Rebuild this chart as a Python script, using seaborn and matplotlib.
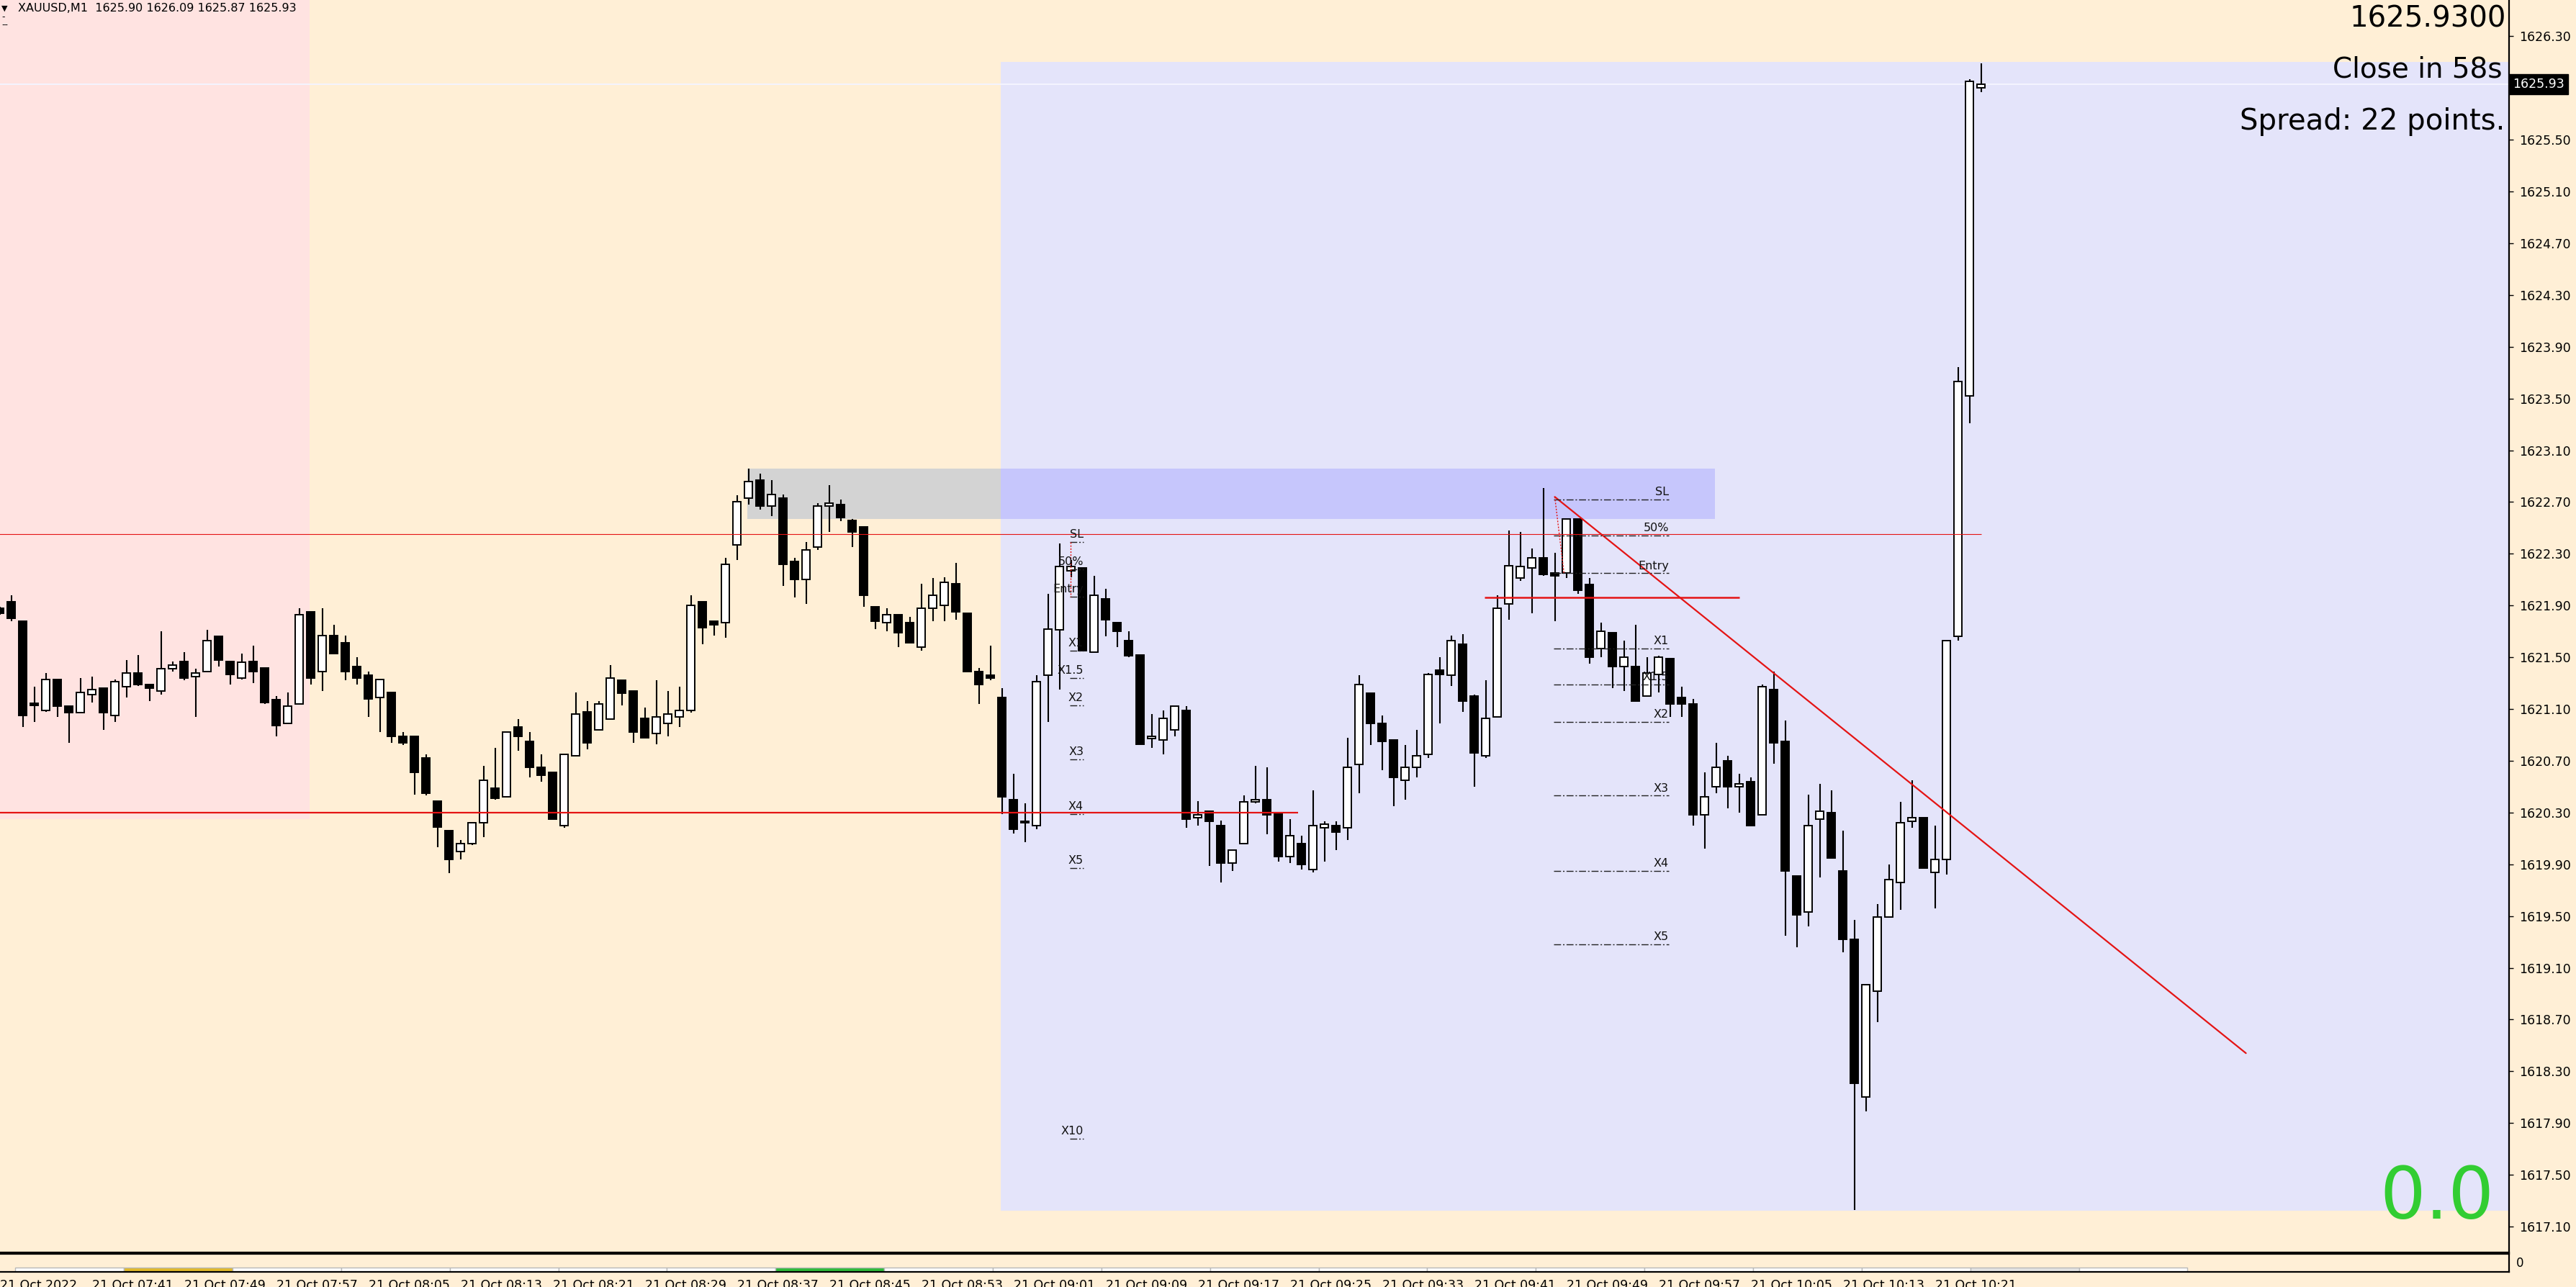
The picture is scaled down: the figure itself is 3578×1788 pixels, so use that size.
import matplotlib
matplotlib.use("Agg")
import matplotlib.pyplot as plt
import matplotlib.transforms as mtransforms
from matplotlib.patches import Rectangle
import numpy as np
import pandas as pd
import seaborn as sns

# XAUUSD M1, bar 0 = 21 Oct 2022 07:33, one bar per minute
opens = [1621.88, 1621.93, 1621.78, 1621.14, 1621.09, 1621.33, 1621.12, 1621.07, 1621.21, 1621.26,
         1621.05, 1621.27, 1621.38, 1621.29, 1621.24, 1621.41, 1621.47, 1621.35, 1621.39, 1621.66,
         1621.47, 1621.34, 1621.47, 1621.42, 1621.17, 1620.99, 1621.14, 1621.85, 1621.39, 1621.67,
         1621.61, 1621.43, 1621.36, 1621.19, 1621.23, 1620.89, 1620.89, 1620.72, 1620.39, 1620.16,
         1620.00, 1620.06, 1620.22, 1620.49, 1620.42, 1620.96, 1620.85, 1620.65, 1620.61, 1620.20,
         1620.74, 1621.08, 1620.94, 1621.02, 1621.32, 1621.24, 1621.03, 1620.91, 1620.99, 1621.04,
         1621.09, 1621.93, 1621.78, 1621.77, 1622.37, 1622.73, 1622.87, 1622.67, 1622.73, 1622.24,
         1622.10, 1622.35, 1622.67, 1622.68, 1622.56, 1622.51, 1621.89, 1621.77, 1621.83, 1621.77,
         1621.58, 1621.88, 1621.90, 1622.07, 1621.84, 1621.39, 1621.36, 1621.19, 1620.40, 1620.22,
         1620.20, 1621.36, 1621.71, 1622.17, 1622.19, 1621.54, 1621.95, 1621.77, 1621.63, 1621.52,
         1620.87, 1620.86, 1620.94, 1621.09, 1620.26, 1620.31, 1620.20, 1619.91, 1620.06, 1620.38,
         1620.40, 1620.30, 1619.96, 1620.06, 1619.86, 1620.18, 1620.20, 1620.18, 1620.67, 1621.22,
         1620.99, 1620.86, 1620.55, 1620.65, 1620.75, 1621.40, 1621.36, 1621.60, 1621.20, 1620.74,
         1621.04, 1621.91, 1622.11, 1622.19, 1622.27, 1622.15, 1622.15, 1622.57, 1622.06, 1621.57,
         1621.69, 1621.43, 1621.43, 1621.20, 1621.37, 1621.49, 1621.19, 1621.14, 1620.28, 1620.50,
         1620.70, 1620.50, 1620.54, 1620.28, 1621.25, 1620.85, 1619.81, 1619.53, 1620.25, 1620.30,
         1619.85, 1619.32, 1618.10, 1618.92, 1619.49, 1619.76, 1620.23, 1620.26, 1619.84, 1619.94,
         1621.66, 1623.52, 1625.90]
highs = [1621.89, 1621.98, 1621.78, 1621.27, 1621.38, 1621.33, 1621.12, 1621.34, 1621.35, 1621.26,
         1621.33, 1621.48, 1621.52, 1621.29, 1621.70, 1621.47, 1621.54, 1621.41, 1621.71, 1621.66,
         1621.47, 1621.53, 1621.59, 1621.42, 1621.20, 1621.23, 1621.88, 1621.85, 1621.88, 1621.75,
         1621.67, 1621.50, 1621.39, 1621.33, 1621.23, 1620.92, 1620.89, 1620.75, 1620.39, 1620.16,
         1620.09, 1620.22, 1620.66, 1620.80, 1620.92, 1621.02, 1620.92, 1620.75, 1620.61, 1620.75,
         1621.23, 1621.16, 1621.16, 1621.44, 1621.32, 1621.24, 1621.11, 1621.32, 1621.24, 1621.27,
         1621.98, 1621.93, 1621.78, 1622.27, 1622.75, 1622.96, 1622.92, 1622.87, 1622.76, 1622.27,
         1622.39, 1622.69, 1622.83, 1622.72, 1622.57, 1622.51, 1621.89, 1621.88, 1621.83, 1621.81,
         1622.07, 1622.11, 1622.12, 1622.23, 1621.84, 1621.42, 1621.59, 1621.26, 1620.60, 1620.37,
         1621.36, 1621.99, 1622.38, 1622.25, 1622.19, 1622.13, 1622.03, 1621.77, 1621.70, 1621.52,
         1621.06, 1621.09, 1621.12, 1621.12, 1620.39, 1620.31, 1620.24, 1620.01, 1620.43, 1620.66,
         1620.65, 1620.30, 1620.25, 1620.12, 1620.47, 1620.23, 1620.23, 1620.88, 1621.36, 1621.22,
         1621.05, 1620.86, 1620.82, 1620.94, 1621.38, 1621.50, 1621.67, 1621.68, 1621.21, 1621.32,
         1621.98, 1622.48, 1622.47, 1622.34, 1622.81, 1622.31, 1622.57, 1622.57, 1622.11, 1621.77,
         1621.69, 1621.63, 1621.75, 1621.50, 1621.51, 1621.49, 1621.27, 1621.18, 1620.61, 1620.84,
         1620.74, 1620.60, 1620.57, 1621.29, 1621.39, 1621.01, 1619.81, 1620.44, 1620.52, 1620.47,
         1620.16, 1619.47, 1618.97, 1619.59, 1619.90, 1620.38, 1620.55, 1620.26, 1620.20, 1621.63,
         1623.74, 1625.97, 1626.09]
lows = [1621.83, 1621.78, 1620.96, 1621.00, 1621.08, 1621.04, 1620.84, 1621.07, 1621.15, 1620.94,
        1621.00, 1621.19, 1621.28, 1621.16, 1621.21, 1621.39, 1621.32, 1621.04, 1621.39, 1621.43,
        1621.29, 1621.33, 1621.30, 1621.14, 1620.89, 1620.99, 1621.14, 1621.29, 1621.24, 1621.53,
        1621.32, 1621.29, 1621.04, 1620.92, 1620.84, 1620.82, 1620.44, 1620.43, 1620.03, 1619.83,
        1619.94, 1620.05, 1620.11, 1620.40, 1620.42, 1620.78, 1620.57, 1620.54, 1620.25, 1620.18,
        1620.74, 1620.79, 1620.94, 1621.02, 1621.13, 1620.84, 1620.88, 1620.83, 1620.89, 1620.96,
        1621.07, 1621.60, 1621.67, 1621.65, 1622.25, 1622.68, 1622.64, 1622.59, 1622.05, 1621.96,
        1621.91, 1622.33, 1622.47, 1622.55, 1622.35, 1621.89, 1621.72, 1621.70, 1621.58, 1621.61,
        1621.55, 1621.78, 1621.78, 1621.79, 1621.39, 1621.14, 1621.32, 1620.29, 1620.14, 1620.07,
        1620.17, 1621.00, 1621.25, 1622.12, 1621.55, 1621.54, 1621.66, 1621.58, 1621.50, 1620.83,
        1620.80, 1620.75, 1620.89, 1620.18, 1620.20, 1619.89, 1619.76, 1619.85, 1620.06, 1620.37,
        1620.13, 1619.92, 1619.91, 1619.86, 1619.84, 1619.92, 1620.01, 1620.09, 1620.45, 1620.82,
        1620.63, 1620.35, 1620.40, 1620.57, 1620.72, 1620.99, 1621.28, 1621.08, 1620.50, 1620.72,
        1621.04, 1621.79, 1622.09, 1621.84, 1622.13, 1621.78, 1622.11, 1621.99, 1621.45, 1621.50,
        1621.26, 1621.24, 1621.16, 1621.20, 1621.23, 1621.04, 1621.04, 1620.20, 1620.02, 1620.45,
        1620.33, 1620.30, 1620.20, 1620.28, 1620.68, 1619.35, 1619.26, 1619.42, 1619.80, 1619.95,
        1619.22, 1617.23, 1617.99, 1618.68, 1619.49, 1619.55, 1620.18, 1619.87, 1619.56, 1619.82,
        1621.63, 1623.31, 1625.87]
closes = [1621.84, 1621.80, 1621.05, 1621.13, 1621.33, 1621.12, 1621.07, 1621.23, 1621.25, 1621.07,
          1621.31, 1621.38, 1621.29, 1621.26, 1621.41, 1621.44, 1621.34, 1621.38, 1621.63, 1621.48,
          1621.37, 1621.46, 1621.39, 1621.15, 1620.97, 1621.12, 1621.83, 1621.34, 1621.67, 1621.53,
          1621.39, 1621.34, 1621.18, 1621.33, 1620.89, 1620.84, 1620.61, 1620.45, 1620.19, 1619.94,
          1620.06, 1620.22, 1620.55, 1620.41, 1620.92, 1620.89, 1620.65, 1620.59, 1620.25, 1620.75,
          1621.06, 1620.84, 1621.14, 1621.34, 1621.22, 1620.92, 1620.88, 1621.04, 1621.06, 1621.09,
          1621.90, 1621.73, 1621.75, 1622.22, 1622.70, 1622.86, 1622.67, 1622.76, 1622.22, 1622.10,
          1622.33, 1622.67, 1622.69, 1622.58, 1622.47, 1621.98, 1621.78, 1621.83, 1621.69, 1621.61,
          1621.88, 1621.98, 1622.08, 1621.85, 1621.39, 1621.29, 1621.34, 1620.42, 1620.17, 1620.22,
          1621.31, 1621.72, 1622.20, 1622.20, 1621.55, 1621.98, 1621.79, 1621.70, 1621.51, 1620.83,
          1620.89, 1621.03, 1621.12, 1620.25, 1620.28, 1620.23, 1619.91, 1620.01, 1620.38, 1620.40,
          1620.28, 1619.96, 1620.12, 1619.90, 1620.20, 1620.21, 1620.15, 1620.65, 1621.29, 1620.99,
          1620.85, 1620.57, 1620.65, 1620.74, 1621.37, 1621.37, 1621.63, 1621.16, 1620.76, 1621.03,
          1621.88, 1622.21, 1622.20, 1622.27, 1622.14, 1622.13, 1622.57, 1622.02, 1621.50, 1621.70,
          1621.43, 1621.50, 1621.16, 1621.38, 1621.50, 1621.14, 1621.14, 1620.28, 1620.42, 1620.65,
          1620.50, 1620.52, 1620.20, 1621.27, 1620.84, 1619.85, 1619.51, 1620.20, 1620.31, 1619.95,
          1619.32, 1618.21, 1618.97, 1619.49, 1619.78, 1620.22, 1620.26, 1619.87, 1619.94, 1621.63,
          1623.63, 1625.95, 1625.93]

# right price scale and bottom time scale
price_ticks = [1617.10, 1617.50, 1617.90, 1618.30, 1618.70, 1619.10, 1619.50, 1619.90, 1620.30,
               1620.70, 1621.10, 1621.50, 1621.90, 1622.30, 1622.70, 1623.10, 1623.50, 1623.90,
               1624.30, 1624.70, 1625.10, 1625.50, 1626.30]
time_tick_bars = [0, 8, 16, 24, 32, 40, 48, 56, 64, 72, 80, 88, 96, 104, 112, 120, 128, 136,
                  144, 152, 160, 168]
time_tick_labels = ["21 Oct 2022", "21 Oct 07:41", "21 Oct 07:49", "21 Oct 07:57", "21 Oct 08:05",
                    "21 Oct 08:13", "21 Oct 08:21", "21 Oct 08:29", "21 Oct 08:37", "21 Oct 08:45",
                    "21 Oct 08:53", "21 Oct 09:01", "21 Oct 09:09", "21 Oct 09:17", "21 Oct 09:25",
                    "21 Oct 09:33", "21 Oct 09:41", "21 Oct 09:49", "21 Oct 09:57", "21 Oct 10:05",
                    "21 Oct 10:13", "21 Oct 10:21"]

# chart objects (bar index, price)
session_zone = (-2.0, 26.9, 1620.25, 1627.0)
lavender_zone = (86.9, 240.0, 1617.22, 1626.10)
supply_zone = (64.9, 148.9, 1622.57, 1622.96)
support_line = (-2.0, 112.7, 1620.30)
resist_line = (-2.0, 172.0, 1622.45)
entry_line = (128.9, 151.0, 1621.96)
trend_x = [135.0, 195.0]
trend_y = [1622.74, 1618.44]
last_price = 1625.93

tool_names_1 = ["SL", "50%", "Entry", "X1", "X1.5", "X2", "X3", "X4", "X5", "X10"]
tool_levels_1 = [1622.39, 1622.18, 1621.97, 1621.55, 1621.34, 1621.13, 1620.71, 1620.29, 1619.87, 1617.78]
tool_span_1 = (92.9, 94.1)
tool_link_1 = ([92.95, 92.95], [1622.39, 1621.97])
tool_names_2 = ["SL", "50%", "Entry", "X1", "X1.5", "X2", "X3", "X4", "X5"]
tool_levels_2 = [1622.72, 1622.44, 1622.15, 1621.57, 1621.29, 1621.00, 1620.43, 1619.85, 1619.28]
tool_span_2 = (134.9, 144.9)
tool_link_2 = ([135.0, 135.8], [1622.74, 1622.15])

strip_colors = ["white", "#E2B92A", "white", "white", "white", "white", "white", "#2EBB3A",
                "white", "white", "white", "white", "white", "white", "white", "white", "white",
                "white", "#E4E4E4", "white"]
strip_start = 1.33
strip_step = 9.43

W, H = 3578, 1788
CREAM = "#FFEFD6"
RED = "#E41414"


def draw_candles(ax, df):
    up = df["close"] >= df["open"]
    ax.vlines(df.index, df["low"], df["high"], color="black", linewidth=1.5, zorder=4)
    bottom = np.minimum(df["open"], df["close"])
    height = np.maximum((df["close"] - df["open"]).abs(), 0.012)
    ax.bar(df.index, height, bottom=bottom, width=0.64,
           color=np.where(up, "white", "black"), edgecolor="black", linewidth=1.4, zorder=5)


def draw_tool(ax, names, levels, span, link):
    ax.hlines(levels, span[0], span[1], colors="#222222", linewidth=1.0,
              linestyles=(0, (7, 2, 1.5, 2)), zorder=6)
    ax.plot(link[0], link[1], color=RED, linestyle=(0, (1.5, 1.5)), linewidth=1.0, zorder=6)
    for name, level in zip(names, levels):
        ax.text(span[1], level + 0.015, name, ha="right", va="bottom", fontsize=11.5,
                color="#111111", zorder=7)


sns.set_theme(style="white")
plt.rcParams["font.family"] = ["DejaVu Sans"]

df = pd.DataFrame({"open": opens, "high": highs, "low": lows, "close": closes})

fig = plt.figure(figsize=(W / 100, H / 100), dpi=100)
fig.patch.set_facecolor(CREAM)
ax = fig.add_axes([0, 1 - 1740 / H, 3485 / W, 1740 / H])
sub = fig.add_axes([0, 1 - 1767 / H, 3485 / W, 25 / H])

ax.set_facecolor(CREAM)
ax.set_xlim(0.03, 217.84)
ax.set_ylim(1616.90, 1626.58)

# zones
x0, x1, y0, y1 = session_zone
ax.add_patch(Rectangle((x0, y0), x1 - x0, y1 - y0, facecolor="#FFE3E1", edgecolor="none", zorder=0))
x0, x1, y0, y1 = lavender_zone
ax.add_patch(Rectangle((x0, y0), x1 - x0, y1 - y0, facecolor="#E4E4FA", edgecolor="none", zorder=0.5))
x0, x1, y0, y1 = supply_zone
split = lavender_zone[0]
ax.add_patch(Rectangle((x0, y0), split - x0, y1 - y0, facecolor="#D3D3D3", edgecolor="none", zorder=1))
ax.add_patch(Rectangle((split, y0), x1 - split, y1 - y0, facecolor="#C6C6FC", edgecolor="none", zorder=1))

# bid line
ax.axhline(last_price, color="#F4F4FF", linewidth=1.4, zorder=1.5)

draw_candles(ax, df)

# horizontal levels and trendline
ax.hlines(support_line[2], support_line[0], support_line[1], color=RED, linewidth=1.6, zorder=6)
ax.hlines(resist_line[2], resist_line[0], resist_line[1], color=RED, linewidth=0.8, zorder=6)
ax.hlines(entry_line[2], entry_line[0], entry_line[1], color=RED, linewidth=1.8, zorder=6)
sns.lineplot(x=trend_x, y=trend_y, color=RED, linewidth=1.6, ax=ax, zorder=6)

draw_tool(ax, tool_names_1, tool_levels_1, tool_span_1, tool_link_1)
draw_tool(ax, tool_names_2, tool_levels_2, tool_span_2, tool_link_2)

# price axis
ax.yaxis.tick_right()
ax.set_yticks(price_ticks)
ax.set_yticklabels([f"{p:.2f}" for p in price_ticks])
ax.tick_params(axis="y", direction="out", length=4, width=1, pad=6, labelsize=12.5,
               colors="black", right=True, left=False)
ax.set_xticks([])
for side in ["top", "left"]:
    ax.spines[side].set_visible(False)
for side in ["right", "bottom"]:
    ax.spines[side].set_color("black")
    ax.spines[side].set_linewidth(1.6)

trans = mtransforms.blended_transform_factory(ax.transAxes, ax.transData)
ax.text(1.0015, last_price, f"{last_price:.2f}", transform=trans, ha="left", va="center",
        fontsize=12.5, color="white", zorder=10, clip_on=False,
        bbox=dict(boxstyle="square,pad=0.3", facecolor="black", edgecolor="black"))

# indicator sub window with the time scale
sub.set_facecolor(CREAM)
sub.set_xlim(ax.get_xlim())
sub.set_ylim(0, 1)
for k, col in enumerate(strip_colors):
    sub.add_patch(Rectangle((strip_start + k * strip_step, 0.0), strip_step, 0.24,
                            facecolor=col, edgecolor="#B8B8B8", linewidth=1.0, zorder=2))
sub.yaxis.tick_right()
sub.set_yticks([0.55])
sub.set_yticklabels(["0"])
sub.tick_params(axis="y", length=0, pad=7, labelsize=12, colors="black")
sub.set_xticks(time_tick_bars)
sub.set_xticklabels(time_tick_labels, ha="left")
sub.tick_params(axis="x", direction="out", length=5, width=1, pad=2, labelsize=12.5, colors="black")
sub.spines["left"].set_visible(False)
for side in ["right", "bottom", "top"]:
    sub.spines[side].set_color("black")
    sub.spines[side].set_linewidth(1.6)

# header and info texts
fig.text(2 / W, 1 - 15 / H, "\u25BC", fontsize=8, color="black", va="baseline")
fig.text(25 / W, 1 - 16 / H, "XAUUSD,M1  1625.90 1626.09 1625.87 1625.93", fontsize=11.5,
         color="black", va="baseline")
fig.text(2 / W, 1 - 27 / H, "-", fontsize=9, color="black", va="baseline")
fig.text(2 / W, 1 - 38 / H, "--", fontsize=9, color="black", va="baseline")

fig.text(3481 / W, 1 - 37 / H, "1625.9300", fontsize=29, color="black", ha="right", va="baseline")
fig.text(3476 / W, 1 - 108 / H, "Close in 58s", fontsize=28, color="black", ha="right", va="baseline")
fig.text(3479 / W, 1 - 180 / H, "Spread: 22 points.", fontsize=29, color="black", ha="right",
         va="baseline")
fig.text(3464 / W, 1 - 1693 / H, "0.0", fontsize=72, color="#32CD32", ha="right", va="baseline")

fig.savefig("out.png", dpi=100, facecolor=CREAM)
